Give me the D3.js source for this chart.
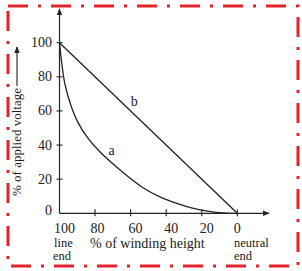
<!DOCTYPE html>
<html><head><meta charset="utf-8">
<script src="https://cdn.jsdelivr.net/npm/d3@7"></script>
<style>html,body{margin:0;padding:0;background:#fff;overflow:hidden}</style>
</head><body>
<script>
const xTicks = [100, 80, 60, 40, 20, 0];
const yTicks = [0, 20, 40, 60, 80, 100];
const curveA = [[100,100],[98.5,86],[97,76],[94,64.5],[89.5,53],[84,44],[78,36.8],[70,29],[62,22],[53,15],[43.5,9.6],[34,5.8],[24.7,2.9],[15,1],[6,0.1],[0,0]];
const curveB = [[100,100],[50,50],[0,0]];
const seriesLabels = [{name:"a", w:70.7, v:34.2},{name:"b", w:58, v:62.9}];

const W = 302, H = 271;
const svg = d3.select("body").append("svg").attr("width", W).attr("height", H);
const font = "'Liberation Serif', 'Times New Roman', serif";

// border
svg.append("rect").attr("x", 8).attr("y", 6).attr("width", 290).attr("height", 260)
  .attr("fill", "none").attr("stroke", "#e3232b").attr("stroke-width", 3)
  .attr("stroke-dasharray", "20,10,3,10");

const x = d3.scaleLinear().domain([100, 0]).range([59.5, 237.3]);
const y = d3.scaleLinear().domain([0, 100]).range([213.3, 42.7]);

const defs = svg.append("defs");
defs.append("marker").attr("id", "arr").attr("viewBox", "0 0 10 10").attr("refX", 9).attr("refY", 5)
  .attr("markerWidth", 7).attr("markerHeight", 7).attr("markerUnits", "userSpaceOnUse").attr("orient", "auto")
  .append("path").attr("d", "M0,1 L10,5 L0,9 Z").attr("fill", "#222");

const ink = "#222";
// axes
svg.append("line").attr("x1", x(100)).attr("y1", y(0)).attr("x2", x(100)).attr("y2", 9)
  .attr("stroke", ink).attr("stroke-width", 1.2).attr("marker-end", "url(#arr)");
svg.append("line").attr("x1", x(100)).attr("y1", y(0)).attr("x2", 269).attr("y2", y(0))
  .attr("stroke", ink).attr("stroke-width", 1.2).attr("marker-end", "url(#arr)");

// y ticks
yTicks.forEach(t => {
  if (t > 0) svg.append("line").attr("x1", x(100) - 3).attr("x2", x(100) + 3).attr("y1", y(t)).attr("y2", y(t))
    .attr("stroke", ink).attr("stroke-width", 1.1);
  svg.append("text").attr("x", 52).attr("y", y(t) + (t === 0 ? 1.5 : 4.5)).attr("text-anchor", "end")
    .attr("font-family", font).attr("font-size", 14).attr("fill", ink).text(t);
});
// x ticks
xTicks.forEach(t => {
  if (t < 100) svg.append("line").attr("x1", x(t)).attr("x2", x(t)).attr("y1", y(0) - 4).attr("y2", y(0) + 3)
    .attr("stroke", ink).attr("stroke-width", 1.1);
  svg.append("text").attr("x", x(t) + (t === 0 ? 0 : (t === 80 ? 2.5 : 5))).attr("y", 233).attr("text-anchor", "middle")
    .attr("font-family", font).attr("font-size", 14).attr("fill", ink).text(t);
});

// axis texts
const txt = (s, tx, ty, anchor, fs) => svg.append("text").attr("x", tx).attr("y", ty).attr("text-anchor", anchor || "start")
  .attr("font-family", font).attr("font-size", fs || 14).attr("fill", ink).text(s);
txt("line", 54, 247, "start", 12.5); txt("end", 53, 259.5, "start", 12.5);
txt("% of winding height", 90, 248);
txt("neutral", 234, 247, "start", 12.5); txt("end", 234, 259.5, "start", 12.5);

// y title
const yt = svg.append("g").attr("transform", "translate(21,196) rotate(-90)");
yt.append("text").attr("x", 0).attr("y", 0).attr("font-family", font).attr("font-size", 13).attr("fill", ink)
  .text("% of applied voltage");
yt.append("line").attr("x1", 110).attr("x2", 149).attr("y1", -4).attr("y2", -4)
  .attr("stroke", ink).attr("stroke-width", 1.1).attr("marker-end", "url(#arr)");

// curves
const line = d3.line().x(d => x(d[0])).y(d => y(d[1])).curve(d3.curveCatmullRom.alpha(0.5));
svg.append("path").attr("d", line(curveA)).attr("fill", "none").attr("stroke", ink).attr("stroke-width", 1.3);
svg.append("path").attr("d", d3.line().x(d => x(d[0])).y(d => y(d[1]))(curveB)).attr("fill", "none").attr("stroke", ink).attr("stroke-width", 1.3);

seriesLabels.forEach(l => txt(l.name, x(l.w), y(l.v), "middle"));
</script>
</body></html>
